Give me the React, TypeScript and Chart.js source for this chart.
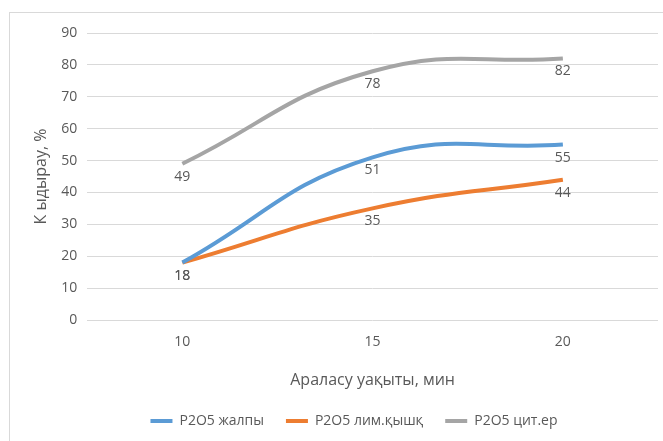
import React, { useEffect, useRef } from "react";
import { Chart, registerables } from "chart.js";

Chart.register(...registerables);

// Mixing time (minutes) on the x axis
const categories = ["10", "15", "20"];

// P2O5 extraction, %
const totalP2O5 = [18, 51, 55];
const citricAcidP2O5 = [18, 35, 44];
const citrateP2O5 = [49, 78, 82];

const seriesNames = ["P2O5 жалпы", "P2O5 лим.қышқ", "P2O5 цит.ер"];
const seriesColors = ["#5B9BD5", "#ED7D31", "#A5A5A5"];

const yMin = 0;
const yMax = 90;
const yStep = 10;

const xTitle = "Араласу уақыты, мин";
const yTitle = "К ыдырау, %";

const FONT = "'Open Sans', 'DejaVu Sans', sans-serif";
const TEXT = "#595959";

// Writes each point's value just below it
const pointValueLabels = {
  id: "pointValueLabels",
  afterDatasetsDraw(chart: any) {
    const ctx = chart.ctx;
    ctx.save();
    ctx.font = `14px ${FONT}`;
    ctx.fillStyle = TEXT;
    ctx.textAlign = "center";
    ctx.textBaseline = "middle";
    chart.data.datasets.forEach((ds: any, i: number) => {
      const meta = chart.getDatasetMeta(i);
      meta.data.forEach((pt: any, j: number) => {
        ctx.fillText(String(ds.data[j]), pt.x, pt.y + 13);
      });
    });
    ctx.restore();
  },
};

// Moves the legend row a little to the right of its default centring
const legendNudge = {
  id: "legendNudge",
  afterLayout(chart: any) {
    const lg = chart.legend;
    if (!lg) return;
    lg.left += 9;
    lg.right += 9;
  },
};

export default function App() {
  const canvasRef = useRef<HTMLCanvasElement | null>(null);

  useEffect(() => {
    document.body.style.margin = "0";
    const canvas = canvasRef.current;
    if (!canvas) return;
    const values = [totalP2O5, citricAcidP2O5, citrateP2O5];
    const chart = new Chart(canvas, {
      type: "line",
      data: {
        labels: categories,
        datasets: values.map((v, i) => ({
          label: seriesNames[i],
          data: v,
          borderColor: seriesColors[i],
          backgroundColor: seriesColors[i],
          borderWidth: 4,
          pointRadius: 0,
          pointHoverRadius: 0,
          tension: 0.45,
          borderCapStyle: "butt" as const,
          fill: false,
        })),
      },
      options: {
        animation: false,
        responsive: false,
        maintainAspectRatio: false,
        layout: { padding: { top: 33, right: 5, bottom: 3, left: 32 } },
        scales: {
          x: {
            offset: true,
            grid: { display: false, drawTicks: false },
            border: { display: false },
            ticks: { color: TEXT, font: { family: FONT, size: 14 }, padding: 14 },
            title: {
              display: true,
              text: xTitle,
              color: TEXT,
              font: { family: FONT, size: 16 },
              padding: { top: 6, bottom: 2 },
            },
          },
          y: {
            min: yMin,
            max: yMax,
            grid: { color: "#D9D9D9", lineWidth: 1, drawTicks: false },
            border: { display: false },
            ticks: {
              stepSize: yStep,
              color: TEXT,
              font: { family: FONT, size: 14 },
              padding: 10,
            },
            title: {
              display: true,
              text: yTitle,
              color: TEXT,
              font: { family: FONT, size: 16 },
              padding: { top: 0, bottom: 0 },
            },
          },
        },
        plugins: {
          legend: {
            position: "bottom",
            labels: {
              color: TEXT,
              font: { family: FONT, size: 14 },
              boxWidth: 22,
              boxHeight: 4,
              padding: 22,
              generateLabels(ch: any) {
                const items = Chart.defaults.plugins.legend.labels.generateLabels(ch);
                return items.map((it: any) => ({ ...it, lineWidth: 0 }));
              },
            },
          },
          tooltip: { enabled: false },
        },
      },
      plugins: [pointValueLabels, legendNudge],
    });
    return () => chart.destroy();
  }, []);

  return (
    <div style={{ position: "relative", width: 663, height: 441, background: "#fff" }}>
      <div
        style={{
          position: "absolute",
          left: 9,
          top: 12,
          width: 660,
          height: 440,
          border: "1px solid #D9D9D9",
          boxSizing: "border-box",
        }}
      />
      <canvas
        ref={canvasRef}
        width={663}
        height={441}
        style={{ position: "absolute", left: 0, top: 0, width: 663, height: 441 }}
      />
    </div>
  );
}
